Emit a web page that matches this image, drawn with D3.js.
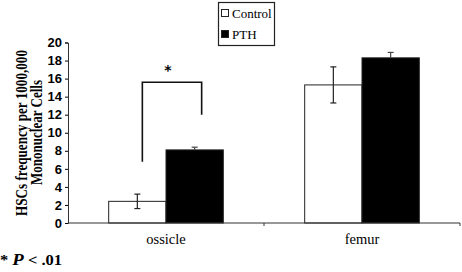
<!DOCTYPE html>
<html>
<head>
<meta charset="utf-8">
<script src="https://cdn.jsdelivr.net/npm/d3@7"></script>
<style>
  body { margin: 0; background: #fff; }
  svg { display: block; }
</style>
</head>
<body>
<svg width="462" height="272"></svg>
<script>
// данные графика
const categories = ["ossicle", "femur"];
const seriesNames = ["Control", "PTH"];
const controlValues = [2.4, 15.3];
const controlErrors = [0.8, 2.0];
const pthValues = [8.1, 18.3];
const pthErrors = [0.3, 0.6];
const yTicks = [0, 2, 4, 6, 8, 10, 12, 14, 16, 18, 20];

const svg = d3.select("svg");
const margin = {left: 68, right: 2, top: 42.5, bottom: 49};
const width = +svg.attr("width");
const height = +svg.attr("height");
const x0 = margin.left, x1 = width - margin.right;
const y0 = height - margin.bottom, y1 = margin.top;

const x = d3.scaleBand().domain(categories).range([x0, x1]);
const xs = d3.scaleBand().domain(seriesNames).range([0, x.bandwidth()]).paddingOuter(0.71);
const y = d3.scaleLinear().domain([0, 20]).range([y0, y1]);

const data = categories.map((c, i) => ({
    cat: c,
    bars: [
        {s: "Control", v: controlValues[i], e: controlErrors[i]},
        {s: "PTH", v: pthValues[i], e: pthErrors[i]}
    ]
}));

// столбцы
const groups = svg.selectAll("g.grp").data(data).join("g")
    .attr("transform", d => `translate(${x(d.cat)},0)`);

groups.selectAll("rect").data(d => d.bars).join("rect")
    .attr("x", d => xs(d.s))
    .attr("y", d => y(d.v))
    .attr("width", xs.bandwidth())
    .attr("height", d => y(0) - y(d.v))
    .attr("fill", d => d.s === "PTH" ? "#000" : "#fff")
    .attr("stroke", "#222")
    .attr("stroke-width", 1);

// планки погрешностей
const err = groups.selectAll("g.err").data(d => d.bars).join("g")
    .attr("stroke", d => d.s === "PTH" ? "#444" : "#222")
    .attr("stroke-width", 1.2);
err.append("line")
    .attr("x1", d => xs(d.s) + xs.bandwidth() / 2)
    .attr("x2", d => xs(d.s) + xs.bandwidth() / 2)
    .attr("y1", d => y(d.v + d.e))
    .attr("y2", d => d.s === "PTH" ? y(d.v) : y(d.v - d.e));
err.append("line")
    .attr("x1", d => xs(d.s) + xs.bandwidth() / 2 - 3)
    .attr("x2", d => xs(d.s) + xs.bandwidth() / 2 + 3)
    .attr("y1", d => y(d.v + d.e))
    .attr("y2", d => y(d.v + d.e));
err.filter(d => d.s !== "PTH").append("line")
    .attr("x1", d => xs(d.s) + xs.bandwidth() / 2 - 3)
    .attr("x2", d => xs(d.s) + xs.bandwidth() / 2 + 3)
    .attr("y1", d => y(d.v - d.e))
    .attr("y2", d => y(d.v - d.e));

// оси
const yAxis = svg.append("g")
    .attr("transform", `translate(${x0},0)`)
    .call(d3.axisLeft(y).tickValues(yTicks).tickSize(3).tickPadding(3));
yAxis.select(".domain").attr("stroke", "#333");
yAxis.selectAll("text")
    .attr("font-family", "'Liberation Sans', Arial, sans-serif")
    .attr("font-weight", "bold")
    .attr("font-size", 13)
    .attr("fill", "#000");

svg.append("line")
    .attr("x1", x0).attr("x2", x1)
    .attr("y1", y0).attr("y2", y0)
    .attr("stroke", "#333").attr("stroke-width", 1.2);
svg.selectAll("line.xtick").data(categories).join("line")
    .attr("x1", d => x(d) + x.bandwidth())
    .attr("x2", d => x(d) + x.bandwidth())
    .attr("y1", y0).attr("y2", y0 + 3)
    .attr("stroke", "#333");

svg.selectAll("text.cat").data(categories).join("text")
    .attr("x", d => x(d) + x.bandwidth() / 2)
    .attr("y", y0 + 21)
    .attr("text-anchor", "middle")
    .attr("font-family", "'Liberation Serif', 'Times New Roman', serif")
    .attr("font-size", 14.5)
    .text(d => d);

// подпись оси Y
const serifBold = "'Liberation Serif', 'Times New Roman', serif";
svg.append("text")
    .attr("transform", `translate(27,133) rotate(-90)`)
    .attr("text-anchor", "middle")
    .attr("font-family", serifBold)
    .attr("font-weight", "bold")
    .attr("font-size", 16.5)
    .attr("textLength", 166)
    .attr("lengthAdjust", "spacingAndGlyphs")
    .text("HSCs frequency per 1000,000");
svg.append("text")
    .attr("transform", `translate(42,132.5) rotate(-90)`)
    .attr("text-anchor", "middle")
    .attr("font-family", serifBold)
    .attr("font-weight", "bold")
    .attr("font-size", 16.5)
    .attr("textLength", 105)
    .attr("lengthAdjust", "spacingAndGlyphs")
    .text("Mononuclear Cells");

// скобка значимости
const bx1 = x(categories[0]) + xs("Control") + xs.bandwidth() / 2 + 5;
const bx2 = x(categories[0]) + xs("PTH") + xs.bandwidth() / 2 + 7;
const bracket = d3.path();
bracket.moveTo(bx1, y(6.8));
bracket.lineTo(bx1, y(15.6));
bracket.lineTo(bx2, y(15.6));
bracket.lineTo(bx2, y(12.0));
svg.append("path")
    .attr("d", bracket.toString())
    .attr("fill", "none")
    .attr("stroke", "#111")
    .attr("stroke-width", 1.6);
svg.append("text")
    .attr("x", (bx1 + bx2) / 2 - 4)
    .attr("y", y(15.6) + 1)
    .attr("dy", -8)
    .attr("text-anchor", "middle")
    .attr("font-family", "'DejaVu Sans', sans-serif")
    .attr("font-weight", "bold")
    .attr("font-size", 14)
    .text("*");

// легенда
const legend = svg.append("g");
legend.append("rect")
    .attr("x", 218.5).attr("y", 2.5)
    .attr("width", 56).attr("height", 43)
    .attr("fill", "#fff").attr("stroke", "#222").attr("stroke-width", 1.2);
const li = legend.selectAll("g.li").data(seriesNames).join("g")
    .attr("transform", (d, i) => `translate(221,${14 + i * 21})`);
li.append("rect")
    .attr("x", 0.5).attr("y", -4.5)
    .attr("width", 7).attr("height", 7)
    .attr("fill", d => d === "PTH" ? "#000" : "#fff")
    .attr("stroke", "#222");
li.append("text")
    .attr("x", 11).attr("y", 4)
    .attr("font-family", "'Liberation Serif', 'Times New Roman', serif")
    .attr("font-size", 13)
    .text(d => d);

// сноска
const note = svg.append("text")
    .attr("x", 0).attr("y", 265)
    .attr("font-family", serifBold)
    .attr("font-weight", "bold")
    .attr("font-size", 14)
    .attr("textLength", 62)
    .attr("lengthAdjust", "spacingAndGlyphs");
note.append("tspan").text("* ");
note.append("tspan").attr("font-style", "italic").attr("font-size", 16).text("P");
note.append("tspan").text(" < .01");
</script>
</body>
</html>
